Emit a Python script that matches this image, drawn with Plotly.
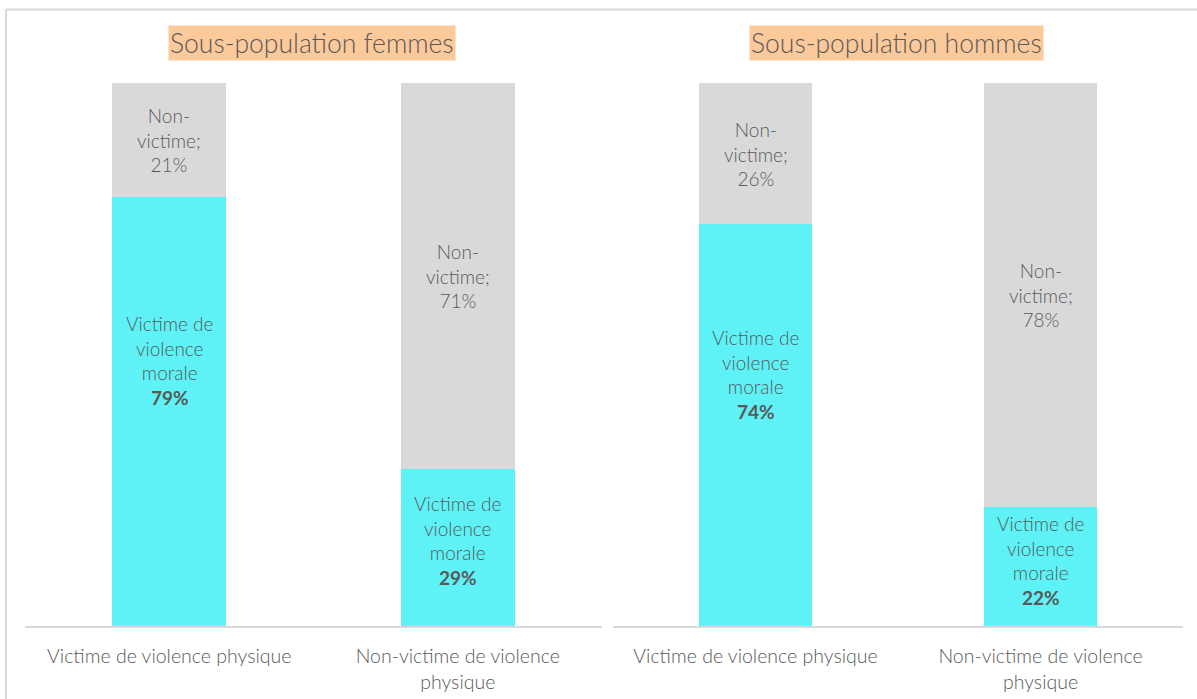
import plotly.graph_objects as go
from plotly.subplots import make_subplots

categories = ["Victime de violence physique", "Non-victime de violence<br>physique"]
panel_titles = ["Sous-population femmes", "Sous-population hommes"]
victime_femmes = [0.79, 0.29]
victime_hommes = [0.74, 0.22]
non_victime_femmes = [0.21, 0.71]
non_victime_hommes = [0.26, 0.78]

CYAN = "#5EF2F7"
GRAY = "#D9D9D9"
TXT = "#595959"
FONT = "Lato"
WEIGHT = 300

W, H = 1197, 699
fig = make_subplots(rows=1, cols=2, horizontal_spacing=0.0)

panels = [(victime_femmes, non_victime_femmes), (victime_hommes, non_victime_hommes)]
x_domains = [[25 / W, 602 / W], [613 / W, 1183 / W]]
y_domain = [(H - 626) / H, 1 - 83 / H]
cyan_shift = [[51, 7], [51, 6]]
lab_font = dict(family=FONT, size=19, color=TXT, weight=WEIGHT)

for i, (vic, non) in enumerate(panels):
    col = i + 1
    fig.add_trace(go.Bar(x=categories, y=vic, marker_color=CYAN, width=0.395,
                         marker_line_width=0, showlegend=False, hoverinfo="skip"), row=1, col=col)
    fig.add_trace(go.Bar(x=categories, y=non, marker_color=GRAY, width=0.395,
                         marker_line_width=0, showlegend=False, hoverinfo="skip"), row=1, col=col)
    xref = "x" if i == 0 else "x2"
    yref = "y" if i == 0 else "y2"
    for j, c in enumerate(categories):
        fig.add_annotation(x=c, y=vic[j] / 2, xref=xref, yref=yref, yshift=cyan_shift[i][j],
                           text=f"Victime de<br>violence<br>morale<br><b>{round(vic[j]*100)}%</b>",
                           showarrow=False, font=lab_font)
        fig.add_annotation(x=c, y=vic[j] + non[j] / 2, xref=xref, yref=yref,
                           text=f"Non-<br>victime;<br>{round(non[j]*100)}%",
                           showarrow=False, font=lab_font)
    fig.add_annotation(x=sum(x_domains[i]) / 2 - 1.5 / W, y=1 - 43 / H, xref="paper", yref="paper",
                       xanchor="center", yanchor="middle",
                       text=panel_titles[i], showarrow=False, bgcolor="#FCC99B", borderpad=1,
                       font=dict(family=FONT, size=26.5, color=TXT, weight=WEIGHT))

axis_common = dict(showline=True, linecolor=GRAY, linewidth=1.5, ticks="", showgrid=False,
                   ticklabelstandoff=12,
                   tickfont=dict(family=FONT, size=19.5, color=TXT, weight=WEIGHT), fixedrange=True)
fig.update_xaxes(**axis_common)
fig.update_xaxes(domain=x_domains[0], row=1, col=1)
fig.update_xaxes(domain=x_domains[1], row=1, col=2)
fig.update_yaxes(range=[0, 1], domain=y_domain, visible=False, showgrid=False, fixedrange=True)

fig.add_shape(type="line", xref="paper", yref="paper", x0=6 / W, x1=1, y0=1 - 9.5 / H, y1=1 - 9.5 / H,
              line=dict(color=GRAY, width=2))
fig.add_shape(type="line", xref="paper", yref="paper", x0=6 / W, x1=6 / W, y0=0, y1=1 - 9.5 / H,
              line=dict(color=GRAY, width=2))

fig.update_layout(barmode="stack", width=W, height=H, autosize=False,
                  margin=dict(l=0, r=0, t=0, b=0), paper_bgcolor="white", plot_bgcolor="white",
                  font=dict(family=FONT, color=TXT))
fig.write_html("out.html", config={"displayModeBar": False},
               post_script="document.body.style.margin='0px';")
